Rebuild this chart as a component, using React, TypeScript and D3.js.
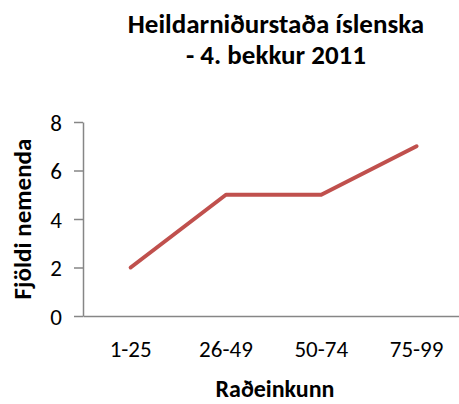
import { useEffect, useRef } from 'react';
import * as d3 from 'd3';

// data
const categories = ['1-25', '26-49', '50-74', '75-99'];
const values = [2, 5, 5, 7];
const yTicks = [0, 2, 4, 6, 8];
const titleLines = ['Heildarniðurstaða íslenska', '- 4. bekkur 2011'];
const xTitle = 'Raðeinkunn';
const yTitle = 'Fjöldi nemenda';

const FONT = 'Carlito, Calibri, Lato, "Open Sans", sans-serif';

export default function App() {
  const svgRef = useRef<SVGSVGElement>(null);

  useEffect(() => {
    const width = 459;
    const height = 404;
    const left = 83;
    const top = 122;
    const bottom = 316;

    const svg = d3.select(svgRef.current);
    svg.selectAll('*').remove();
    svg.attr('width', width).attr('height', height);

    const x = d3.scaleBand<string>()
      .domain(categories)
      .range([left, left + 4 * 95.3]);

    const y = d3.scaleLinear()
      .domain([0, 8])
      .range([bottom, top]);

    // title
    const title = svg.append('text')
      .attr('text-anchor', 'middle')
      .style('font-family', FONT)
      .style('font-weight', 'bold')
      .style('font-size', '27px')
      .style('fill', '#000');
    titleLines.forEach((t, i) => {
      title.append('tspan')
        .attr('x', 276)
        .attr('y', 33 + i * 31)
        .text(t);
    });

    // y axis
    const yAxis = svg.append('g')
      .attr('transform', `translate(${left},0)`)
      .call(d3.axisLeft(y).tickValues(yTicks).tickSize(9).tickPadding(12).tickSizeOuter(0));
    yAxis.select('.domain').attr('stroke', '#868686').attr('stroke-width', 1.5);
    yAxis.selectAll('.tick line').attr('stroke', '#868686').attr('stroke-width', 1.5);
    yAxis.selectAll('.tick text')
      .style('font-family', FONT)
      .style('font-size', '23px')
      .style('fill', '#000')
      .attr('dy', '0.36em');

    // x axis
    const xAxis = svg.append('g')
      .attr('transform', `translate(0,${bottom})`)
      .call(d3.axisBottom(x).tickSize(0).tickPadding(25).tickSizeOuter(0));
    xAxis.select('.domain').attr('stroke', '#868686').attr('stroke-width', 1.5);
    xAxis.selectAll('.tick text')
      .style('font-family', FONT)
      .style('font-size', '23px')
      .style('fill', '#000');

    // line
    const line = d3.line<number>()
      .x((d, i) => (x(categories[i]) as number) + x.bandwidth() / 2)
      .y(d => y(d));

    svg.append('path')
      .datum(values)
      .attr('d', line)
      .attr('fill', 'none')
      .attr('stroke', '#c0504d')
      .attr('stroke-width', 4)
      .attr('stroke-linecap', 'round')
      .attr('stroke-linejoin', 'round');

    // axis titles
    svg.append('text')
      .attr('x', 275)
      .attr('y', 397)
      .attr('text-anchor', 'middle')
      .style('font-family', FONT)
      .style('font-weight', 'bold')
      .style('font-size', '24px')
      .text(xTitle);

    svg.append('text')
      .attr('transform', `translate(31,${(top + bottom) / 2}) rotate(-90)`)
      .attr('text-anchor', 'middle')
      .style('font-family', FONT)
      .style('font-weight', 'bold')
      .style('font-size', '25px')
      .text(yTitle);
  }, []);

  return (
    <svg
      ref={svgRef}
      style={{ position: 'absolute', left: 0, top: 0, background: '#fff' }}
    />
  );
}
